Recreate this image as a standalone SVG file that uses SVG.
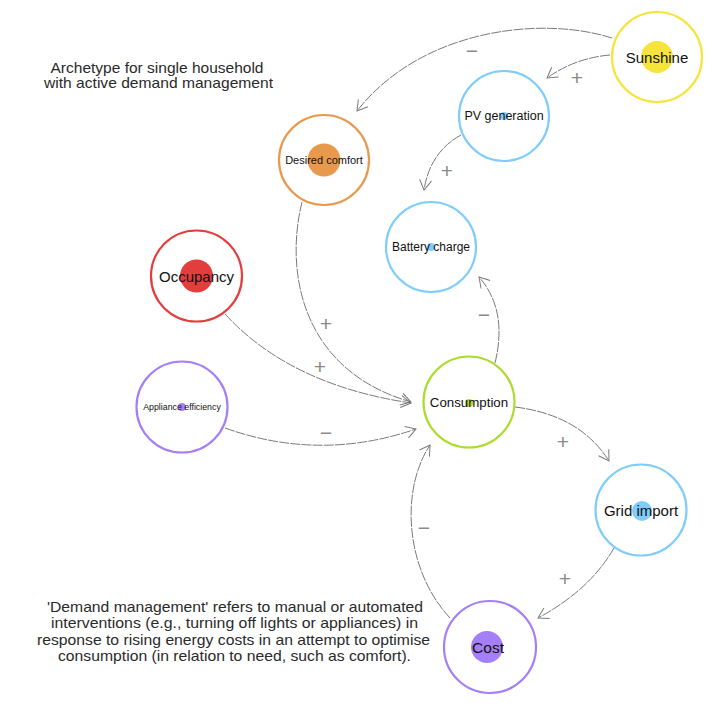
<svg xmlns="http://www.w3.org/2000/svg" width="723" height="710" viewBox="0 0 723 710">
<defs>
<style>
.ring{fill:#fff;stroke-width:2.2}
.lbl{font-family:"Liberation Sans",Arial,sans-serif;fill:#111;text-anchor:middle;dominant-baseline:central}
.edge{fill:none;stroke:#7a7a7a;stroke-width:1;stroke-dasharray:10 1.2;marker-end:url(#arr)}
.sign{font-family:"Liberation Sans",Arial,sans-serif;font-size:21px;fill:#8a8a8a;text-anchor:middle;dominant-baseline:central}
.note{font-family:"Liberation Sans",Arial,sans-serif;fill:#2a2a2a;text-anchor:middle}
.blue{stroke:#80cdfc}.bluef{fill:#80cdfc}
</style>
<marker id="arr" viewBox="-12 -7 14 14" markerWidth="14" markerHeight="14" refX="0" refY="0" orient="auto" markerUnits="userSpaceOnUse">
<path d="M -10 -6 L 0 0 L -10 6" fill="none" stroke="#7a7a7a" stroke-width="1"/>
</marker>
</defs>
<rect width="723" height="710" fill="#fff"/>

<g id="title">
<text class="note" x="157" y="73" font-size="14.2" textLength="213" lengthAdjust="spacingAndGlyphs">Archetype for single household</text>
<text class="note" x="158.5" y="88" font-size="14.2" textLength="229" lengthAdjust="spacingAndGlyphs">with active demand management</text>
</g>

<g id="connectors">
<path class="edge" d="M 612 38 C 540 15, 420 30, 357 111"/>
<path class="edge" d="M 610 55 Q 575 58 547 78"/>
<path class="edge" d="M 461 135 Q 430 152 424 190"/>
<path class="edge" d="M 495 363 Q 508 310 479 277"/>
<path class="edge" d="M 302 202 C 285 270, 300 370, 411 402"/>
<path class="edge" d="M 225 314 Q 290 385 411 403"/>
<path class="edge" d="M 225 428 Q 320 462 416 429"/>
<path class="edge" d="M 515 407 Q 580 415 609 461"/>
<path class="edge" d="M 614 548 Q 590 590 538 618"/>
<path class="edge" d="M 450 618 C 405 570, 400 490, 430 445"/>
<text class="sign" x="472" y="50">−</text>
<text class="sign" x="577" y="77">+</text>
<text class="sign" x="447" y="170">+</text>
<text class="sign" x="484" y="314">−</text>
<text class="sign" x="326" y="323">+</text>
<text class="sign" x="320" y="366">+</text>
<text class="sign" x="326" y="432">−</text>
<text class="sign" x="563" y="441">+</text>
<text class="sign" x="565" y="578">+</text>
<text class="sign" x="424" y="527">−</text>
</g>

<g id="sunshine">
<circle class="ring" cx="657" cy="57" r="45" stroke="#f6e43c"/>
<circle cx="657" cy="57" r="16" fill="#f6e43c"/>
<text class="lbl" x="657" y="57" font-size="15">Sunshine</text>
</g>

<g id="pv-generation">
<circle class="ring blue" cx="504" cy="116" r="45"/>
<circle class="bluef" cx="504" cy="116" r="4"/>
<text class="lbl" x="504" y="116" font-size="12.5">PV generation</text>
</g>

<g id="battery-charge">
<circle class="ring blue" cx="431" cy="247" r="45"/>
<circle class="bluef" cx="431" cy="247" r="4"/>
<text class="lbl" x="431" y="247" font-size="12">Battery charge</text>
</g>

<g id="desired-comfort">
<circle class="ring" cx="324" cy="160" r="45" stroke="#e8994c"/>
<circle cx="324" cy="160" r="16.5" fill="#e8994c"/>
<text class="lbl" x="324" y="160" font-size="11">Desired comfort</text>
</g>

<g id="occupancy">
<circle class="ring" cx="196.5" cy="276" r="45.5" stroke="#e43d3d"/>
<circle cx="196.5" cy="276" r="16.5" fill="#e43d3d"/>
<text class="lbl" x="196.5" y="276" font-size="15">Occupancy</text>
</g>

<g id="appliance-efficiency">
<circle class="ring" cx="182" cy="407" r="45.5" stroke="#a57ff7"/>
<circle cx="182" cy="407" r="4" fill="#a57ff7"/>
<text class="lbl" x="182" y="407" font-size="8.8">Appliance efficiency</text>
</g>

<g id="consumption">
<circle class="ring" cx="469" cy="402" r="45.5" stroke="#acdc2e"/>
<circle cx="469" cy="403" r="4" fill="#acdc2e"/>
<text class="lbl" x="469" y="402" font-size="13.3">Consumption</text>
</g>

<g id="grid-import">
<circle class="ring blue" cx="641" cy="510" r="45.5"/>
<circle class="bluef" cx="642" cy="511" r="10"/>
<text class="lbl" x="641" y="510" font-size="15">Grid import</text>
</g>

<g id="cost">
<circle class="ring" cx="490" cy="647" r="46" stroke="#a57ff7"/>
<circle cx="487" cy="647" r="16" fill="#a57ff7"/>
<text class="lbl" x="488" y="647" font-size="15.5">Cost</text>
</g>

<g id="note">
<text class="note" x="235" y="612" font-size="15" textLength="376" lengthAdjust="spacingAndGlyphs">'Demand management' refers to manual or automated</text>
<text class="note" x="234.5" y="628" font-size="15" textLength="367" lengthAdjust="spacingAndGlyphs">interventions (e.g., turning off lights or appliances) in</text>
<text class="note" x="233.5" y="644.5" font-size="15" textLength="393" lengthAdjust="spacingAndGlyphs">response to rising energy costs in an attempt to optimise</text>
<text class="note" x="234.5" y="661" font-size="15" textLength="353" lengthAdjust="spacingAndGlyphs">consumption (in relation to need, such as comfort).</text>
</g>
</svg>
